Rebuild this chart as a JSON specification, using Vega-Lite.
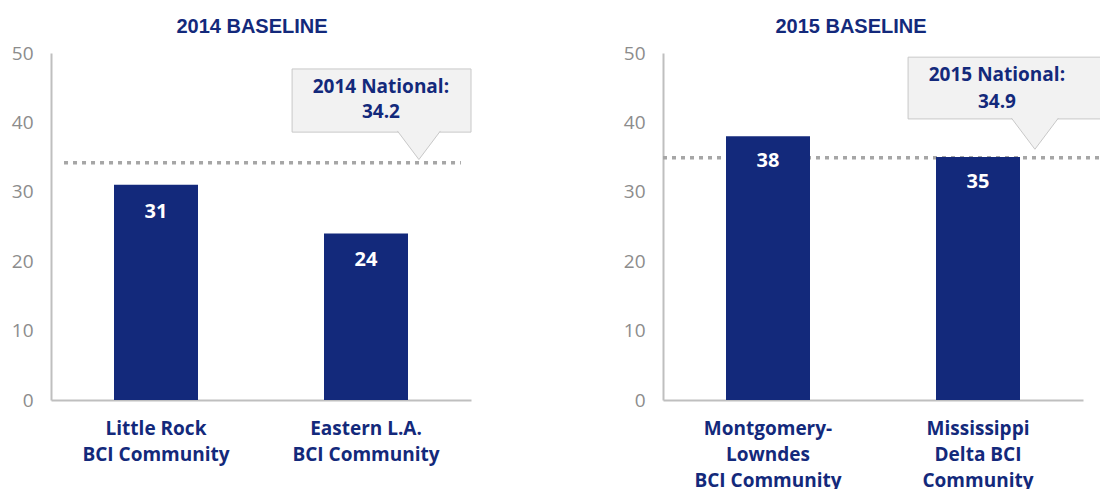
{
  "$schema": "https://vega.github.io/schema/vega-lite/v6.json",
  "padding": {"left": 11, "top": 17, "right": 0, "bottom": 0},
  "background": "white",
  "config": {
    "view": {"stroke": null},
    "font": "Open Sans",
    "axisY": {"domainColor": "#bfbfbf", "domainWidth": 2, "ticks": false, "grid": false, "labelFont": "Open Sans", "labelFontSize": 19, "labelColor": "#8c8c8c", "labelPadding": 18, "title": null, "tickCount": 6},
    "axisX": {"domainColor": "#bfbfbf", "domainWidth": 2, "ticks": false, "grid": false, "labelFont": "Open Sans", "labelFontWeight": "bold", "labelFontSize": 19, "labelColor": "#13297b", "labelAngle": 0, "labelPadding": 19, "labelLineHeight": 26, "labelBaseline": "top", "labelLimit": 0, "title": null},
    "title": {"font": "Liberation Sans", "fontSize": 20, "fontWeight": "bold", "color": "#13297b", "anchor": "middle", "frame": "group", "offset": 7}
  },
  "spacing": 151,
  "hconcat": [
    {
      "title": {"text": "2014 BASELINE", "dx": -9},
      "width": 420,
      "height": 347,
      "layer": [
        {
          "data": {"values": [{"national": 34.2}]},
          "mark": {"type": "rule", "color": "#a6a6a6", "strokeWidth": 3.5, "strokeDash": [4, 5]},
          "encoding": {
            "x": {"datum": 0.062, "type": "quantitative", "scale": {"domain": [0, 2]}, "axis": null},
            "x2": {"datum": 1.952},
            "y": {"field": "national", "type": "quantitative", "scale": {"domain": [0, 50], "nice": false}, "title": null}
          }
        },
        {
          "data": {"values": [
            {"community": "Little Rock|BCI Community", "score": 31},
            {"community": "Eastern L.A.|BCI Community", "score": 24}
          ]},
          "encoding": {
            "x": {"field": "community", "type": "nominal", "sort": null, "scale": {"paddingInner": 0.6, "paddingOuter": 0.3}, "axis": {"labelExpr": "split(datum.label, '|')"}},
            "y": {"field": "score", "type": "quantitative", "scale": {"domain": [0, 50], "nice": false}, "title": null}
          },
          "layer": [
            {"mark": {"type": "bar", "color": "#13297b"}},
            {"mark": {"type": "text", "color": "white", "fontWeight": "bold", "fontSize": 20, "dy": 27, "baseline": "middle"}, "encoding": {"text": {"field": "score", "type": "quantitative"}}}
          ]
        },
        {
          "data": {"values": [{"national": 34.2, "label": "2014 National:"}]},
          "layer": [
            {
              "mark": {"type": "rect", "fill": "#f2f2f2", "stroke": "#c8c8c8", "strokeWidth": 1},
              "encoding": {
                "x": {"datum": 1.148, "type": "quantitative", "scale": {"domain": [0, 2]}, "axis": null},
                "x2": {"datum": 2.0},
                "y": {"datum": 47.7, "type": "quantitative"},
                "y2": {"datum": 38.6}
              }
            },
            {
              "mark": {"type": "point", "shape": "M-1,-0.7L0,0.63L1,-0.7", "filled": true, "fill": "#f2f2f2", "stroke": "#c8c8c8", "strokeWidth": 1, "opacity": 1, "size": 1849},
              "encoding": {
                "x": {"datum": 1.752, "type": "quantitative", "scale": {"domain": [0, 2]}, "axis": null},
                "y": {"datum": 36.6, "type": "quantitative"}
              }
            },
            {
              "mark": {"type": "text", "color": "#13297b", "fontWeight": "bold", "fontSize": 19, "baseline": "middle"},
              "encoding": {
                "x": {"datum": 1.571, "type": "quantitative", "scale": {"domain": [0, 2]}, "axis": null},
                "y": {"datum": 45.1, "type": "quantitative"},
                "text": {"field": "label"}
              }
            },
            {
              "mark": {"type": "text", "color": "#13297b", "fontWeight": "bold", "fontSize": 19, "baseline": "middle"},
              "encoding": {
                "x": {"datum": 1.571, "type": "quantitative", "scale": {"domain": [0, 2]}, "axis": null},
                "y": {"datum": 41.5, "type": "quantitative"},
                "text": {"field": "national", "type": "quantitative", "format": ".1f"}
              }
            }
          ]
        }
      ],
      "resolve": {"scale": {"x": "independent"}}
    },
    {
      "title": {"text": "2015 BASELINE", "dx": -22},
      "width": 420,
      "height": 347,
      "layer": [
        {
          "data": {"values": [{"national": 34.9}]},
          "mark": {"type": "rule", "color": "#a6a6a6", "strokeWidth": 3.5, "strokeDash": [4, 5]},
          "encoding": {
            "x": {"datum": 0.0, "type": "quantitative", "scale": {"domain": [0, 2]}, "axis": null},
            "x2": {"datum": 2.1},
            "y": {"field": "national", "type": "quantitative", "scale": {"domain": [0, 50], "nice": false}, "title": null}
          }
        },
        {
          "data": {"values": [
            {"community": "Montgomery-|Lowndes|BCI Community", "score": 38},
            {"community": "Mississippi|Delta BCI|Community", "score": 35}
          ]},
          "encoding": {
            "x": {"field": "community", "type": "nominal", "sort": null, "scale": {"paddingInner": 0.6, "paddingOuter": 0.3}, "axis": {"labelExpr": "split(datum.label, '|')"}},
            "y": {"field": "score", "type": "quantitative", "scale": {"domain": [0, 50], "nice": false}, "title": null}
          },
          "layer": [
            {"mark": {"type": "bar", "color": "#13297b"}},
            {"mark": {"type": "text", "color": "white", "fontWeight": "bold", "fontSize": 20, "dy": 25, "baseline": "middle"}, "encoding": {"text": {"field": "score", "type": "quantitative"}}}
          ]
        },
        {
          "data": {"values": [{"national": 34.9, "label": "2015 National:"}]},
          "layer": [
            {
              "mark": {"type": "rect", "fill": "#f2f2f2", "stroke": "#c8c8c8", "strokeWidth": 1},
              "encoding": {
                "x": {"datum": 1.167, "type": "quantitative", "scale": {"domain": [0, 2]}, "axis": null},
                "x2": {"datum": 2.2},
                "y": {"datum": 49.4, "type": "quantitative"},
                "y2": {"datum": 40.5}
              }
            },
            {
              "mark": {"type": "point", "shape": "M-1,-0.7L0,0.63L1,-0.7", "filled": true, "fill": "#f2f2f2", "stroke": "#c8c8c8", "strokeWidth": 1, "opacity": 1, "size": 2209},
              "encoding": {
                "x": {"datum": 1.771, "type": "quantitative", "scale": {"domain": [0, 2]}, "axis": null},
                "y": {"datum": 38.26, "type": "quantitative"}
              }
            },
            {
              "mark": {"type": "text", "color": "#13297b", "fontWeight": "bold", "fontSize": 19, "baseline": "middle"},
              "encoding": {
                "x": {"datum": 1.59, "type": "quantitative", "scale": {"domain": [0, 2]}, "axis": null},
                "y": {"datum": 46.8, "type": "quantitative"},
                "text": {"field": "label"}
              }
            },
            {
              "mark": {"type": "text", "color": "#13297b", "fontWeight": "bold", "fontSize": 19, "baseline": "middle"},
              "encoding": {
                "x": {"datum": 1.59, "type": "quantitative", "scale": {"domain": [0, 2]}, "axis": null},
                "y": {"datum": 42.9, "type": "quantitative"},
                "text": {"field": "national", "type": "quantitative", "format": ".1f"}
              }
            }
          ]
        }
      ],
      "resolve": {"scale": {"x": "independent"}}
    }
  ]
}
